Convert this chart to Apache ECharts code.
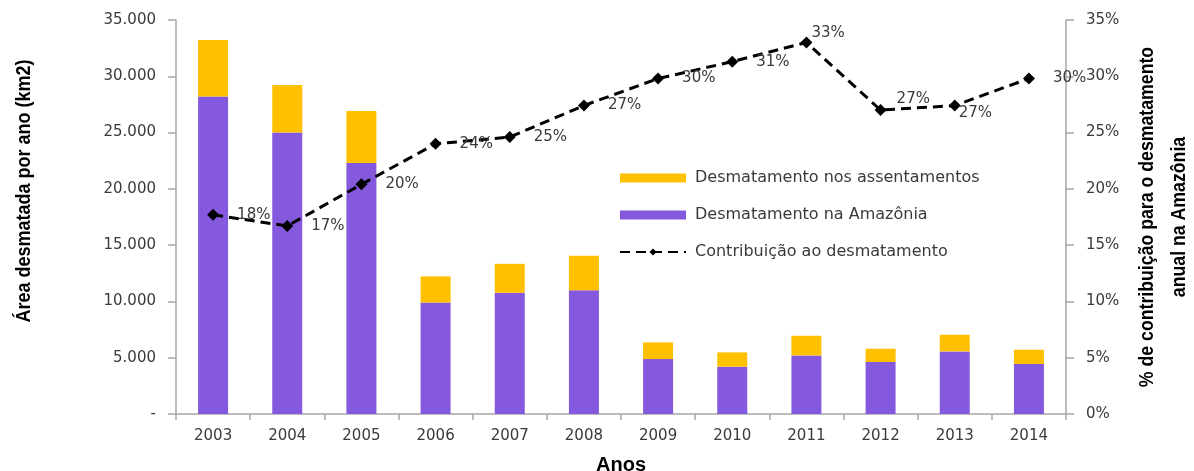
<!DOCTYPE html>
<html>
<head>
<meta charset="utf-8">
<script src="https://cdn.jsdelivr.net/npm/echarts@6/dist/echarts.min.js"></script>
<style>
  html, body { margin: 0; padding: 0; background: #fff; }
  #chart { width: 1194px; height: 471px; }
</style>
</head>
<body>
<div id="chart"></div>
<script>
// Annual deforestation (km²) and share coming from settlements
const years = ['2003', '2004', '2005', '2006', '2007', '2008', '2009', '2010', '2011', '2012', '2013', '2014'];
const desmAmazonia = [28200, 25000, 22300, 9900, 10770, 11000, 4880, 4200, 5200, 4620, 5560, 4440];
const desmAssentamentos = [5020, 4230, 4620, 2320, 2570, 3050, 1480, 1270, 1750, 1180, 1480, 1270];
const contribuicao = [17.7, 16.7, 20.4, 24.0, 24.6, 27.4, 29.8, 31.3, 33.0, 27.0, 27.4, 29.8];

const nomeAssent = 'Desmatamento nos assentamentos';
const nomeAmaz = 'Desmatamento na Amazônia';
const nomeContrib = 'Contribuição ao desmatamento';

const corTexto = '#3a3a3a';
const corEixo = '#a6a6a6';
const fonte = "'DejaVu Sans', Verdana, sans-serif";
const fonteTitulo = "'Liberation Sans', Arial, sans-serif";

// label nudges for points where the percentage sits above or below the line
const ajusteRotulo = { '2011': [-19, -9], '2012': [-8, -11], '2013': [-20, 8] };

function milhar(v) {
  if (v === 0) return '-';
  return String(v).replace(/\B(?=(\d{3})+(?!\d))/g, '.');
}

const chart = echarts.init(document.getElementById('chart'), null, { renderer: 'canvas' });

chart.setOption({
  animation: false,
  backgroundColor: '#ffffff',
  grid: { left: 176, right: 128, top: 20, bottom: 57, containLabel: false, outerBoundsMode: 'none' },
  legend: {
    data: [
      { name: nomeAssent, icon: 'rect' },
      { name: nomeAmaz, icon: 'rect' },
      { name: nomeContrib }
    ],
    orient: 'vertical',
    left: 619,
    top: 170,
    padding: 0,
    itemWidth: 66,
    itemHeight: 9,
    itemGap: 21,
    textStyle: { fontFamily: fonte, fontSize: 16, color: corTexto, lineHeight: 16, padding: [0, 0, 0, 4] }
  },
  xAxis: {
    type: 'category',
    data: years,
    name: 'Anos',
    nameLocation: 'middle',
    nameGap: 41,
    nameTextStyle: { fontFamily: fonteTitulo, fontWeight: 'bold', fontSize: 20, color: '#000' },
    axisLine: { lineStyle: { color: corEixo, width: 1.5 } },
    axisTick: { show: true, length: 6, alignWithLabel: false, lineStyle: { color: corEixo, width: 1.5 } },
    axisLabel: { fontFamily: fonte, fontSize: 15, color: corTexto, margin: 15 }
  },
  yAxis: [
    {
      type: 'value',
      min: 0, max: 35000, interval: 5000,
      position: 'left',
      axisLine: { show: true, lineStyle: { color: corEixo, width: 1.5 } },
      axisTick: { show: true, length: 8, lineStyle: { color: corEixo, width: 1.5 } },
      splitLine: { show: false },
      axisLabel: { fontFamily: fonte, fontSize: 15, color: corTexto, margin: 20, formatter: milhar }
    },
    {
      type: 'value',
      min: 0, max: 35, interval: 5,
      position: 'right',
      axisLine: { show: true, lineStyle: { color: corEixo, width: 1.5 } },
      axisTick: { show: true, length: 8, lineStyle: { color: corEixo, width: 1.5 } },
      splitLine: { show: false },
      axisLabel: { fontFamily: fonte, fontSize: 15, color: corTexto, margin: 20, formatter: '{value}%' }
    }
  ],
  series: [
    {
      name: nomeAmaz,
      type: 'bar',
      stack: 'total',
      barWidth: 30,
      yAxisIndex: 0,
      itemStyle: { color: '#8559DE' },
      data: desmAmazonia
    },
    {
      name: nomeAssent,
      type: 'bar',
      stack: 'total',
      barWidth: 30,
      yAxisIndex: 0,
      itemStyle: { color: '#FFC000' },
      data: desmAssentamentos
    },
    {
      name: nomeContrib,
      type: 'line',
      yAxisIndex: 1,
      symbol: 'diamond',
      symbolSize: 12,
      itemStyle: { color: '#000' },
      lineStyle: { color: '#000', width: 3, type: [10, 6] },
      label: {
        show: true,
        position: 'right',
        distance: 18,
        fontFamily: fonte,
        fontSize: 15,
        color: corTexto,
        formatter: p => Math.round(p.value) + '%'
      },
      data: contribuicao.map((v, i) => {
        const off = ajusteRotulo[years[i]];
        return off ? { value: v, label: { offset: off } } : v;
      }),
      z: 5
    }
  ],
  graphic: [
    {
      // left axis title, condensed along its reading direction
      type: 'text',
      x: 24,
      y: 191,
      rotation: Math.PI / 2,
      scaleX: 0.9,
      style: {
        text: 'Área desmatada por ano (km2)',
        font: 'bold 20px ' + fonteTitulo,
        fill: '#000',
        align: 'center',
        verticalAlign: 'middle'
      }
    },
    {
      // right axis title on two lines
      type: 'text',
      x: 1163,
      y: 217,
      rotation: Math.PI / 2,
      scaleX: 0.885,
      style: {
        text: '% de contribuição para o desmatamento\nanual na Amazônia',
        font: 'bold 20px ' + fonteTitulo,
        lineHeight: 32,
        fill: '#000',
        align: 'center',
        verticalAlign: 'middle'
      }
    }
  ]
});
</script>
</body>
</html>
